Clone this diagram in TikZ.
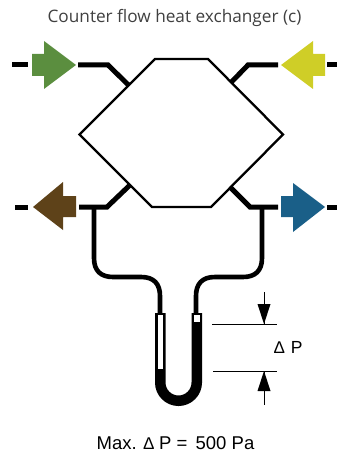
\documentclass[tikz,border=0pt]{standalone}
\usepackage{fontspec}
\setmainfont{Liberation Sans}
\newfontfamily\titlefont{Open Sans}
\definecolor{cgreen}{HTML}{5B8E3F}
\definecolor{cyellow}{HTML}{CFCE27}
\definecolor{cbrown}{HTML}{5E4219}
\definecolor{cblue}{HTML}{1A5F88}
\tikzset{
  duct/.style={line width=5pt,line join=miter,black},
  pipe/.style={line width=4.6pt,black},
  hexline/.style={draw=black,line width=2.3pt,line join=miter},
  dimline/.style={line width=0.9pt,black},
  blockhead/.style={fill=black,draw=none},
  flowarrow/.style={draw=none},
  labeltext/.style={inner sep=0pt,font=\fontsize{17.5}{20}\selectfont},
}
\begin{document}
\begin{tikzpicture}[x=1pt,y=-1pt]
\useasboundingbox (0,0) rectangle (337,457);
% title
\node[inner sep=0pt,font=\titlefont\fontsize{17.2}{20}\selectfont,text=black!75] (title) at (174.5,17.5) {Counter flow heat exchanger (c)};
% exchanger
\coordinate (hTL) at (155,59);
\coordinate (hTR) at (208,59);
\coordinate (hR) at (283,134.5);
\coordinate (hBR) at (211,207);
\coordinate (hBL) at (152,207);
\coordinate (hL) at (79.5,134.5);
\draw[hexline] (hTL) -- (hTR) -- (hR) -- (hBR) -- (hBL) -- (hL) -- cycle;
% duct ends on the exchanger
\coordinate (pGreen) at (129,85.5);
\coordinate (pYellow) at (231,82.5);
\coordinate (pBrown) at (130,185);
\coordinate (pBlue) at (230,187);
% ducts
\draw[duct] (12,65) -- (28,65);
\draw[duct] (78,65) -- (108,65) -- (pGreen);
\draw[duct] (327,65) -- (337,65);
\draw[duct] (278,65) -- (248,65) -- (pYellow);
\draw[duct] (15,207) -- (28,207);
\draw[duct] (79,207) -- (107,207) -- (pBrown);
\draw[duct] (327,207) -- (337,207);
\draw[duct] (278,207) -- (250,207) -- (pBlue);
% flow arrows
\fill[cgreen,flowarrow] (32,54) -- (44,54) -- (44,41) -- (76,65) -- (44,89) -- (44,76) -- (32,76) -- cycle;
\fill[cyellow,flowarrow] (325,54) -- (313,54) -- (313,41) -- (281,65) -- (313,89) -- (313,76) -- (325,76) -- cycle;
\fill[cbrown,flowarrow] (76,196) -- (63,196) -- (63,182) -- (33,207) -- (63,230) -- (63,217) -- (76,217) -- cycle;
\fill[cblue,flowarrow] (281,196) -- (293,196) -- (293,183) -- (325,207) -- (293,232) -- (293,217) -- (281,217) -- cycle;
% pipes
\draw[pipe] (94,207) -- (94,258) .. controls (94,271) and (101,277) .. (113,277) -- (141,277) .. controls (154,277) and (160,284) .. (160,296) -- (160,314);
\draw[pipe] (262,207) -- (262,258) .. controls (262,271) and (255,277) .. (243,277) -- (215,277) .. controls (202,277) and (196,284) .. (196,296) -- (196,314);
% U-tube
\draw[line width=10.5pt,black] (160.25,313) -- (160.25,382.5) arc[start angle=180,end angle=360,radius=18.25pt] -- (196.75,313);
\fill[white] (157.5,315) rectangle (163,369);
\fill[white] (193.5,315) rectangle (199.5,322);
% dimension
\draw[dimline] (212,324) -- (277,324);
\draw[dimline] (213,371) -- (277,371);
\draw[dimline] (264,292) -- (264,324);
\draw[dimline] (264,371) -- (264,405);
\fill[blockhead] (257.5,304) -- (270.5,304) -- (264,324) -- cycle;
\fill[blockhead] (257.5,391) -- (270.5,391) -- (264,371) -- cycle;
\node[labeltext,anchor=west] (dp) at (274,347.5) {{\fontsize{17}{18}\selectfont ∆}\hspace{1.5pt} P};
\node[inner sep=0pt,font=\fontsize{18.5}{20}\selectfont] (maxdp) at (175.5,443) {Max. {\fontsize{17}{18}\selectfont ∆} P = \,500 Pa};
\end{tikzpicture}
\end{document}
